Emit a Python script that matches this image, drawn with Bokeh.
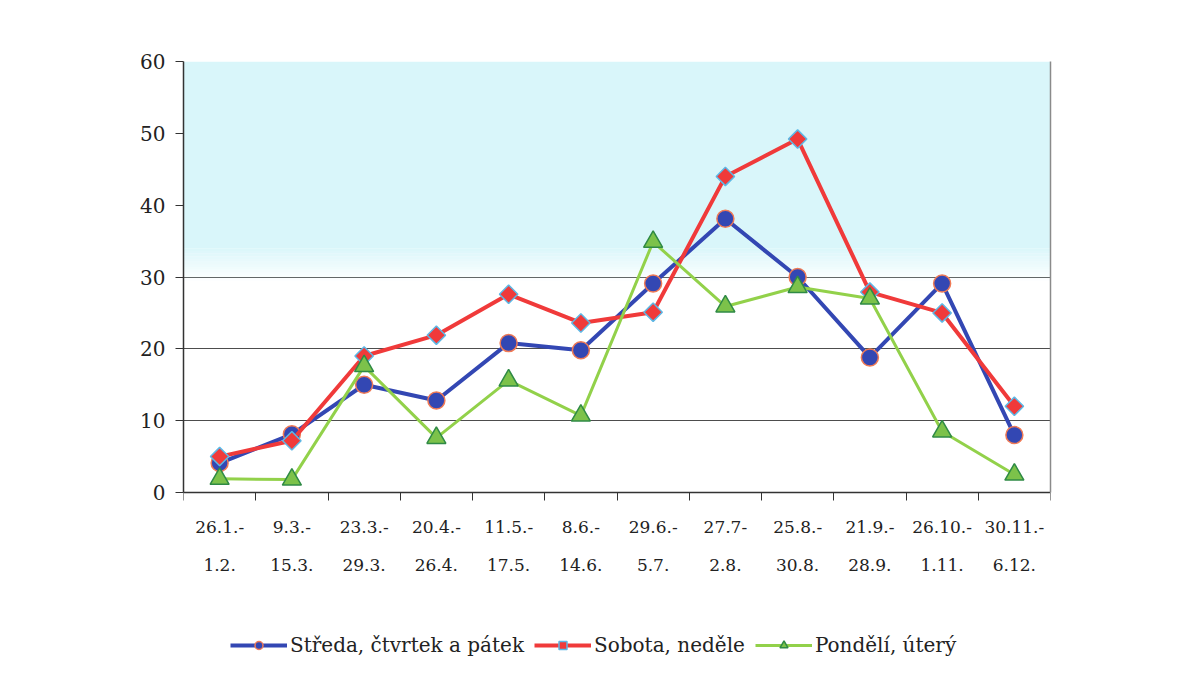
import math
from bokeh.plotting import figure
from bokeh.models import FixedTicker, BoxAnnotation, Legend, LegendItem, Range1d, LinearAxis
from bokeh.embed import file_html
from bokeh.resources import INLINE

period_start = ["26.1.-", "9.3.-", "23.3.-", "20.4.-", "11.5.-", "8.6.-",
                "29.6.-", "27.7-", "25.8.-", "21.9.-", "26.10.-", "30.11.-"]
period_end = ["1.2.", "15.3.", "29.3.", "26.4.", "17.5.", "14.6.",
              "5.7.", "2.8.", "30.8.", "28.9.", "1.11.", "6.12."]

streda = [4.1, 8.1, 15.0, 12.8, 20.8, 19.8, 29.1, 38.1, 30.0, 18.8, 29.1, 8.0]
sobota = [5.0, 7.2, 19.0, 21.9, 27.6, 23.6, 25.1, 44.0, 49.2, 27.9, 25.0, 12.0]
pondeli = [1.9, 1.8, 17.6, 7.6, 15.6, 10.7, 34.9, 25.9, 28.6, 27.0, 8.5, 2.5]

names = ["Středa, čtvrtek a pátek", "Sobota, neděle", "Pondělí, úterý"]

FONT = "DejaVu Serif"
x = list(range(1, len(period_start) + 1))

# plot area: value axis 0..60 spans 431 px; the frame continues below it
# to hold the category labels and the legend
FL, FT, FW = 183, 61, 867
PX_PER_UNIT = 431 / 60
FH = 599
YMIN = 60 - FH / PX_PER_UNIT

p = figure(frame_width=FW, frame_height=FH, output_backend="svg", toolbar_location=None,
           x_range=Range1d(0.5, len(x) + 0.5), y_range=Range1d(YMIN, 60),
           min_border_left=FL, min_border_right=1170 - FL - FW,
           min_border_top=FT, min_border_bottom=0)

p.background_fill_color = "white"
p.border_fill_color = "white"
p.outline_line_color = None

# cyan wash in the upper part of the plot area
cyan = "#d9f6fa"
p.add_layout(BoxAnnotation(bottom=34, top=60, fill_color=cyan, fill_alpha=1.0,
                           line_color=None, level="underlay"))
steps = 12
for i in range(steps):
    b = 29.5 + 4.5 * i / steps
    t = 29.5 + 4.5 * (i + 1) / steps
    p.add_layout(BoxAnnotation(bottom=b, top=t, fill_color=cyan,
                               fill_alpha=(i + 1) / (steps + 1),
                               line_color=None, level="underlay"))

# grid
p.xgrid.grid_line_color = None
p.ygrid.grid_line_color = "#4d4d4d"
p.ygrid.grid_line_width = 1
p.ygrid.ticker = FixedTicker(ticks=[10, 20, 30, 40, 50, 60])

# y axis
p.yaxis.ticker = FixedTicker(ticks=[0, 10, 20, 30, 40, 50, 60])
p.yaxis.bounds = (0, 60)
p.yaxis.major_label_text_font = FONT
p.yaxis.major_label_text_font_size = "20px"
p.yaxis.major_label_text_color = "#222222"
p.yaxis.axis_line_color = "#333333"
p.yaxis.axis_line_width = 1.5
p.yaxis.major_tick_line_color = "#333333"
p.yaxis.major_tick_out = 8
p.yaxis.major_tick_in = 0
p.yaxis.minor_tick_line_color = None
p.yaxis.major_label_standoff = 10

# right border of the plot area
rax = LinearAxis(bounds=(0, 60), ticker=FixedTicker(ticks=[]), axis_line_color="#8a8a8a",
                 axis_line_width=1.5, major_tick_line_color=None, minor_tick_line_color=None,
                 major_label_text_font_size="0px")
p.add_layout(rax, "right")

# x axis (first label row) at value 0: labels at centres, ticks at boundaries
p.xaxis.fixed_location = 0
p.xaxis.ticker = FixedTicker(ticks=x, minor_ticks=[i + 0.5 for i in range(len(x) + 1)])
p.xaxis.major_label_overrides = {i: s for i, s in zip(x, period_start)}
p.xaxis.major_label_text_font = FONT
p.xaxis.major_label_text_font_size = "17px"
p.xaxis.major_label_text_color = "#222222"
p.xaxis.major_tick_line_color = None
p.xaxis.minor_tick_line_color = "#333333"
p.xaxis.minor_tick_out = 8
p.xaxis.minor_tick_in = 0
p.xaxis.axis_line_color = "#333333"
p.xaxis.axis_line_width = 1.5
p.xaxis.major_label_standoff = 20

# second label row
ax2 = LinearAxis(ticker=FixedTicker(ticks=x), fixed_location=0,
                 major_label_overrides={i: e for i, e in zip(x, period_end)},
                 major_label_text_font=FONT, major_label_text_font_size="17px",
                 major_label_text_color="#222222", axis_line_color=None,
                 major_tick_line_color=None, minor_tick_line_color=None,
                 major_tick_out=0, major_label_standoff=66)
p.add_layout(ax2, "below")

series = [
    (streda, "#3347b3", "circle", 17, 0.0, "#3347b3", "#f07a55", 4),
    (sobota, "#f03a3a", "square", 13, math.pi / 4, "#f03a3a", "#5cb8e6", 4),
    (pondeli, "#92d14a", "triangle", 19, 0.0, "#7cc24a", "#2f8a45", 3),
]

items = []
for (vals, lc, mk, sz, ang, fc, oc, lw), name in zip(series, names):
    lr = p.line(x, vals, line_color=lc, line_width=lw)
    sr = p.scatter(x, vals, marker=mk, size=sz, angle=ang, fill_color=fc, line_color=oc, line_width=1.5)
    items.append(LegendItem(label=name, renderers=[lr, sr]))

legend = Legend(items=items, orientation="horizontal", location=(47, 3),
                border_line_color=None, background_fill_alpha=0,
                label_text_font=FONT, label_text_font_size="20px",
                label_text_color="#222222", glyph_width=57, glyph_height=20,
                label_standoff=3, spacing=10, padding=0, margin=0)
p.add_layout(legend, "center")

open("out.html", "w").write(file_html(p, INLINE))
